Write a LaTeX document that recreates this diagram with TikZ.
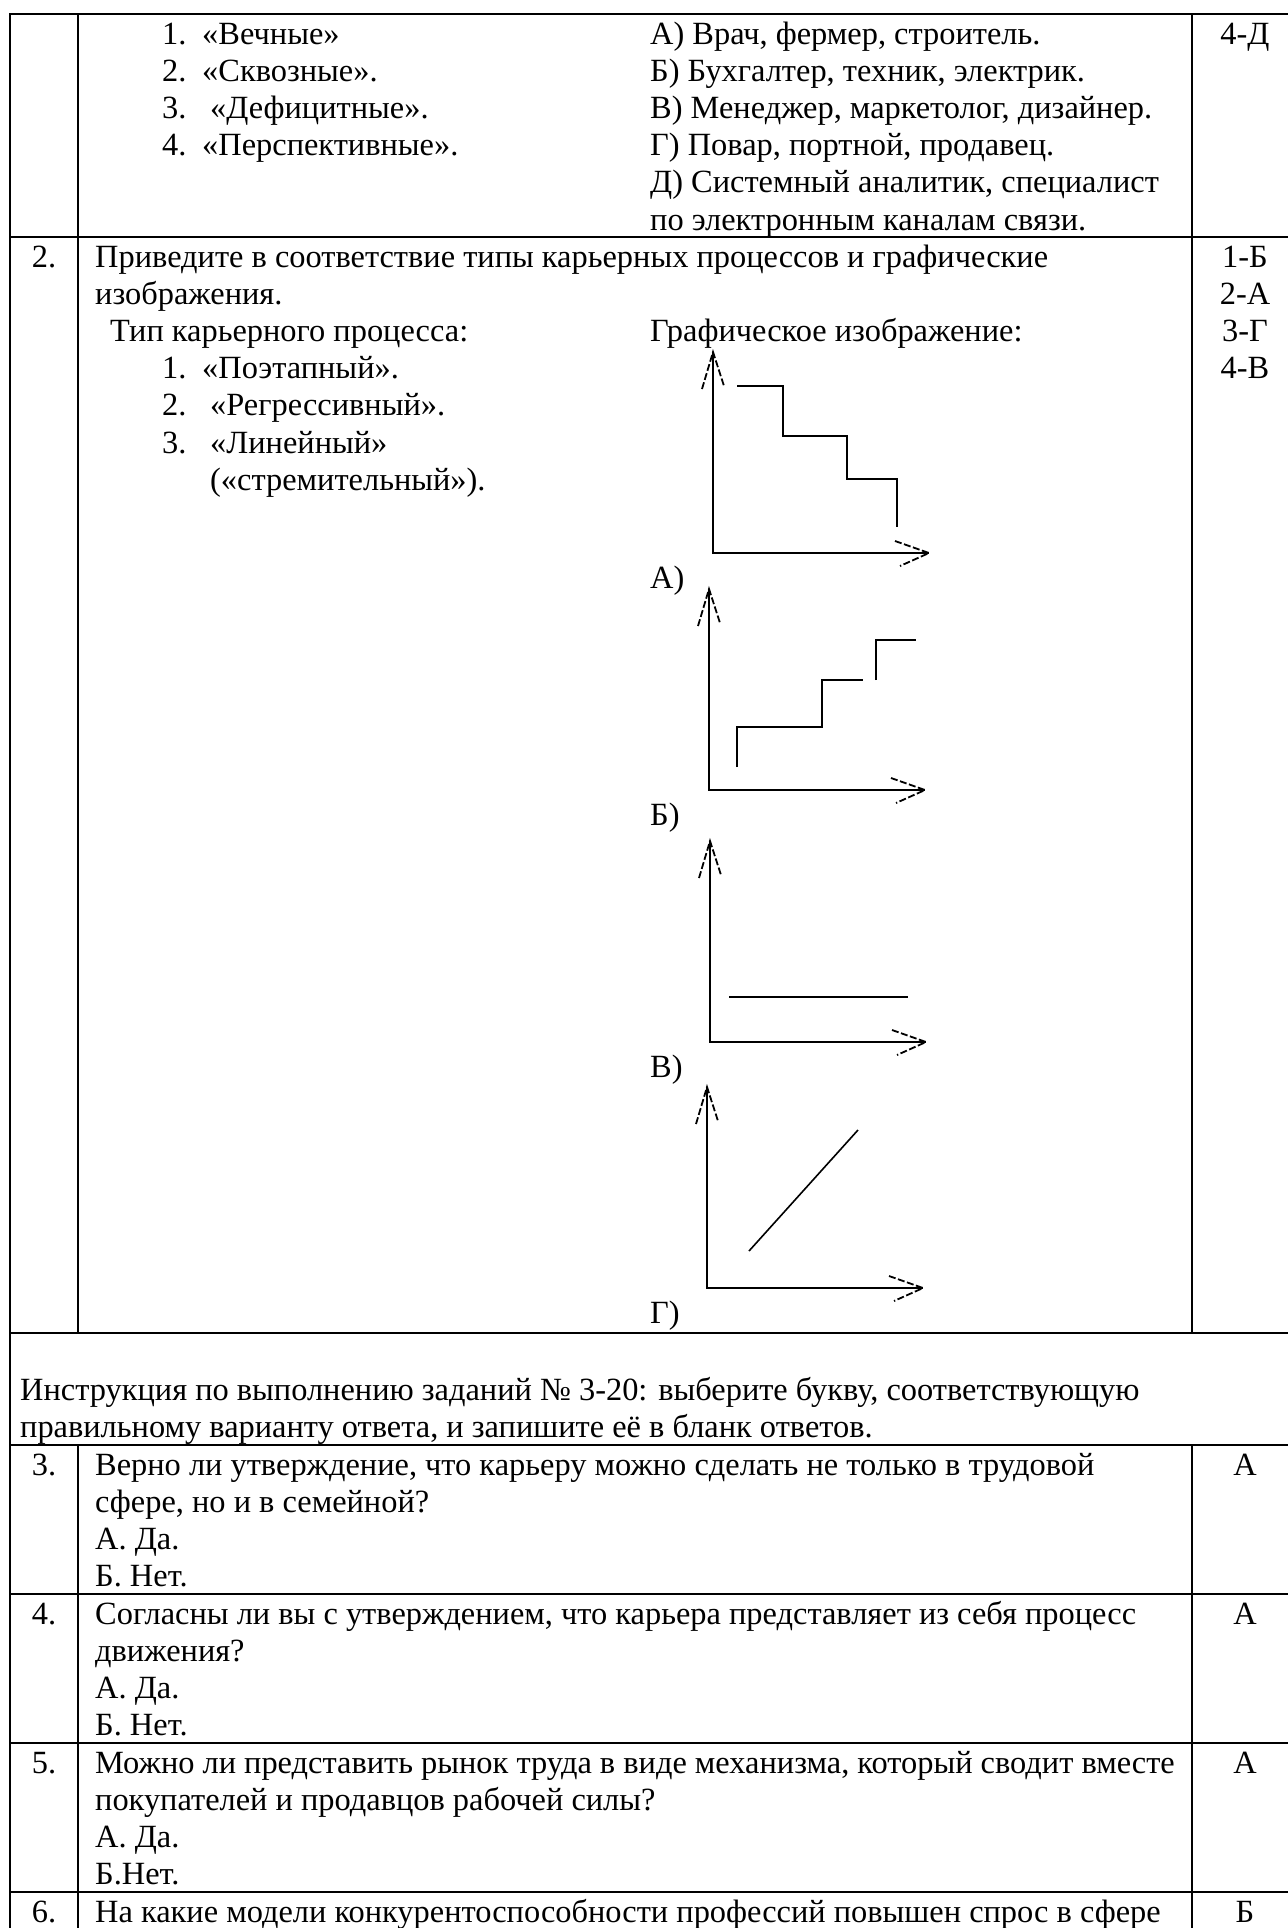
\documentclass[tikz,border=0pt]{standalone}
\usepackage{fontspec}
\setmainfont{Liberation Serif}
\tikzset
{
    txt/.style   = {anchor=base west, inner sep=0pt, font=\fontsize{32.4}{37.2}\selectfont},
    num/.style   = {anchor=base, inner sep=0pt, font=\fontsize{32.4}{37.2}\selectfont},
    hrule/.style = {line width=2.4pt},
    vrule/.style = {line width=2pt},
    axis/.style  = {line width=1.8pt},
    barb/.style  = {line width=1.8pt, dash pattern=on 7pt off 2.5pt},
    trend/.style = {line width=1.6pt}
}

\begin{document}
\begin{tikzpicture}[x=1pt, y=-1pt]
    \useasboundingbox[fill=white] (0,0) rectangle (1288,1928);

    % table rules
    \foreach \y in {14,237,1333,1445,1594,1743,1892}
        \draw[hrule] (10,\y) -- (1288,\y);
    \draw[vrule] (10,13) -- (10,1928);
    \foreach \x in {78,1192}
    {
        \draw[vrule] (\x,13) -- (\x,1333);
        \draw[vrule] (\x,1445) -- (\x,1928);
    }

    % row 1
    \foreach \t [count=\k] in {1.,2.,3.,4.}
        \node[txt] (ra\k) at (162,{44+(\k-1)*37.2}) {\t};
    \node[txt] (rat1) at (202,44) {«Вечные»};
    \node[txt] (rat2) at (202,81.2) {«Сквозные».};
    \node[txt] (rat3) at (210,118.4) {«Дефицитные».};
    \node[txt] (rat4) at (202,155.6) {«Перспективные».};
    \foreach \t [count=\k] in {{А) Врач, фермер, строитель.},{Б) Бухгалтер, техник, электрик.},
        {В) Менеджер, маркетолог, дизайнер.},{Г) Повар, портной, продавец.},
        {Д) Системный аналитик, специалист},{по электронным каналам связи.}}
        \node[txt] (rb\k) at (650,{44+(\k-1)*37.2}) {\t};
    \node[num] (ans1) at (1245,44) {4-Д};

    % row 2
    \node[num] (n2) at (44,267) {2.};
    \node[txt] (q2a) at (95,267) {Приведите в соответствие типы карьерных процессов и графические};
    \node[txt] (q2b) at (95,304.2) {изображения.};
    \node[txt] (q2c) at (110,341.4) {Тип карьерного процесса:};
    \node[txt] (q2d) at (650,341.4) {Графическое изображение:};
    \foreach \t [count=\k] in {1.,2.,3.}
        \node[txt] (p\k) at (162,{378.6+(\k-1)*37.2}) {\t};
    \node[txt] (pt1) at (202,378.6) {«Поэтапный».};
    \node[txt] (pt2) at (210,415.8) {«Регрессивный».};
    \node[txt] (pt3) at (210,453) {«Линейный»};
    \node[txt] (pt4) at (210,490.2) {(«стремительный»).};
    \foreach \t [count=\k] in {1-Б,2-А,3-Г,4-В}
        \node[num] (ans2\k) at (1245,{267+(\k-1)*37.2}) {\t};

    % the four graphs
    \foreach \g/\ox/\oy/\lab in {gA/713/553/А), gB/709/790/Б), gV/710/1042/В), gG/707/1288/Г)}
    {
        \draw[axis] (\ox,\oy-201) -- (\ox,\oy) -- (\ox+216,\oy);
        \draw[barb] (\ox-11,\oy-164) -- (\ox,\oy-201) -- (\ox+11,\oy-167);
        \draw[barb] (\ox+182,\oy-12) -- (\ox+216,\oy) -- (\ox+187,\oy+13);
        \node[txt] (\g) at (650,\oy+35) {\lab};
    }
    \draw[trend] (737,386) -- (783,386) -- (783,436) -- (847,436) -- (847,479) -- (897,479) -- (897,527);
    \draw[trend] (737,767) -- (737,727) -- (822,727) -- (822,680) -- (863,680);
    \draw[trend] (876,680) -- (876,640) -- (916,640);
    \draw[trend] (729,997) -- (908,997);
    \draw[trend] (749,1251) -- (858,1130);

    % instruction
    \node[txt] (ins1) at (20,1400) {Инструкция по выполнению заданий № 3-20: выберите букву, соответствующую};
    \node[txt] (ins2) at (20,1437.2) {правильному варианту ответа, и запишите её в бланк ответов.};

    % rows 3-5
    \node[num] (n3) at (44,1475) {3.};
    \foreach \t [count=\k] in {{Верно ли утверждение, что карьеру можно сделать не только в трудовой},
        {сфере, но и в семейной?},{А. Да.},{Б. Нет.}}
        \node[txt] (q3\k) at (95,{1475+(\k-1)*37.2}) {\t};
    \node[num] (ans3) at (1245,1475) {А};

    \node[num] (n4) at (44,1624) {4.};
    \foreach \t [count=\k] in {{Согласны ли вы с утверждением, что карьера представляет из себя процесс},
        {движения?},{А. Да.},{Б. Нет.}}
        \node[txt] (q4\k) at (95,{1624+(\k-1)*37.2}) {\t};
    \node[num] (ans4) at (1245,1624) {А};

    \node[num] (n5) at (44,1773) {5.};
    \foreach \t [count=\k] in {{Можно ли представить рынок труда в виде механизма, который сводит вместе},
        {покупателей и продавцов рабочей силы?},{А. Да.},{Б.Нет.}}
        \node[txt] (q5\k) at (95,{1773+(\k-1)*37.2}) {\t};
    \node[num] (ans5) at (1245,1773) {А};

    % row 6
    \node[num] (n6) at (44,1922) {6.};
    \node[txt] (q61) at (95,1922) {На какие модели конкурентоспособности профессий повышен спрос в сфере};
    \node[num] (ans6) at (1245,1922) {Б};
\end{tikzpicture}
\end{document}
